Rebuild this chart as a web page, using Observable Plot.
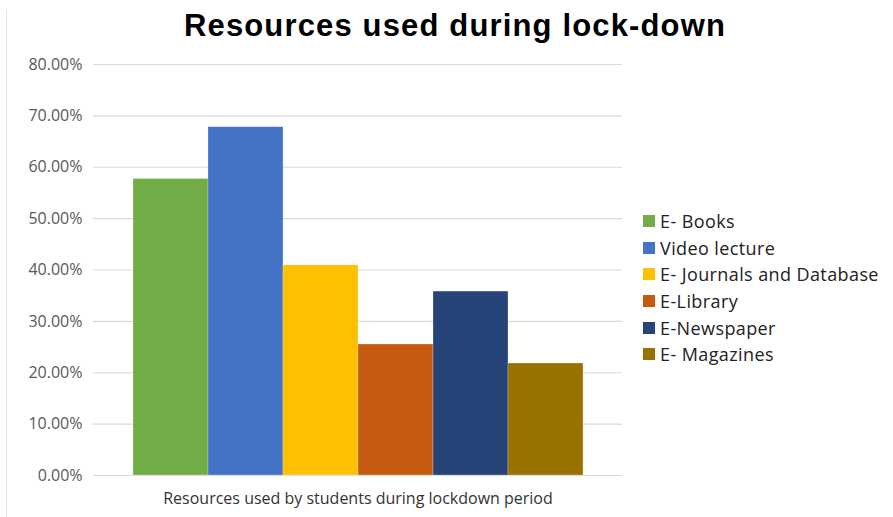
<!DOCTYPE html>
<html>
<head>
<meta charset="utf-8">
<script src="https://cdn.jsdelivr.net/npm/d3@7"></script>
<script src="https://cdn.jsdelivr.net/npm/@observablehq/plot@0.6"></script>
<style>
  html, body { margin: 0; padding: 0; background: #fff; }
  #wrap { position: relative; width: 893px; height: 517px; overflow: hidden; background: #fff; }
  #frame { position: absolute; left: 6px; top: 10px; width: 0; height: 520px; border-left: 1px solid #e3e3e3; }
  #title { position: absolute; left: 0; width: 910px; top: 8px; text-align: center; letter-spacing: 1.15px;
           font-family: "Liberation Sans", Arial, sans-serif; font-weight: bold; font-size: 31px; color: #000; }
  #legend { position: absolute; left: 643px; top: 208px; font-family: "Open Sans", sans-serif; font-size: 18px; letter-spacing: 0.4px; color: #222; }
  .row { display: flex; align-items: center; height: 26.6px; }
  .sw { width: 12px; height: 12px; margin-right: 5px; flex: none; }
  #chart { position: absolute; left: 0; top: 0; }
</style>
</head>
<body>
<div id="wrap">
  <div id="frame"></div>
  <div id="chart"></div>
  <div id="title">Resources used during lock-down</div>
  <div id="legend"></div>
</div>
<script>
const categories = ["E- Books", "Video lecture", "E- Journals and Database", "E-Library", "E-Newspaper", "E- Magazines"];
const values = [0.577, 0.678, 0.409, 0.255, 0.358, 0.218];
const colors = ["#70AD47", "#4472C4", "#FFC000", "#C55A11", "#264478", "#997300"];
const yTicks = [0, 0.1, 0.2, 0.3, 0.4, 0.5, 0.6, 0.7, 0.8];
const xLabel = "Resources used by students during lockdown period";

const data = categories.map((c, i) => ({category: c, value: values[i]}));

const chart = Plot.plot({
  width: 893,
  height: 517,
  marginTop: 64,
  marginBottom: 42,
  marginLeft: 93,
  marginRight: 271,
  style: {fontFamily: "Open Sans, sans-serif", background: "transparent"},
  x: {domain: categories, paddingInner: 0, paddingOuter: 0.5, axis: null},
  y: {domain: [0, 0.8], axis: null},
  color: {domain: categories, range: colors},
  marks: [
    Plot.gridY(yTicks, {stroke: "#d9d9d9", strokeOpacity: 1, strokeWidth: 1.2}),
    Plot.axisY(yTicks, {tickSize: 0, tickPadding: 11, tickFormat: d3.format(".2%"), label: null, fontSize: 16, color: "#595959"}),
    Plot.barY(data, {x: "category", y: "value", fill: "category", stroke: "#fff", strokeWidth: 0.5, strokeOpacity: 0.5}),
    Plot.axisX({ticks: [], tickSize: 0, label: xLabel, labelAnchor: "center", labelOffset: 28, fontSize: 16, color: "#333"})
  ]
});
document.getElementById("chart").appendChild(chart);

const legend = document.getElementById("legend");
categories.forEach((c, i) => {
  const row = document.createElement("div");
  row.className = "row";
  const sw = document.createElement("div");
  sw.className = "sw";
  sw.style.background = colors[i];
  const t = document.createElement("span");
  t.textContent = c;
  row.appendChild(sw);
  row.appendChild(t);
  legend.appendChild(row);
});
</script>
</body>
</html>
